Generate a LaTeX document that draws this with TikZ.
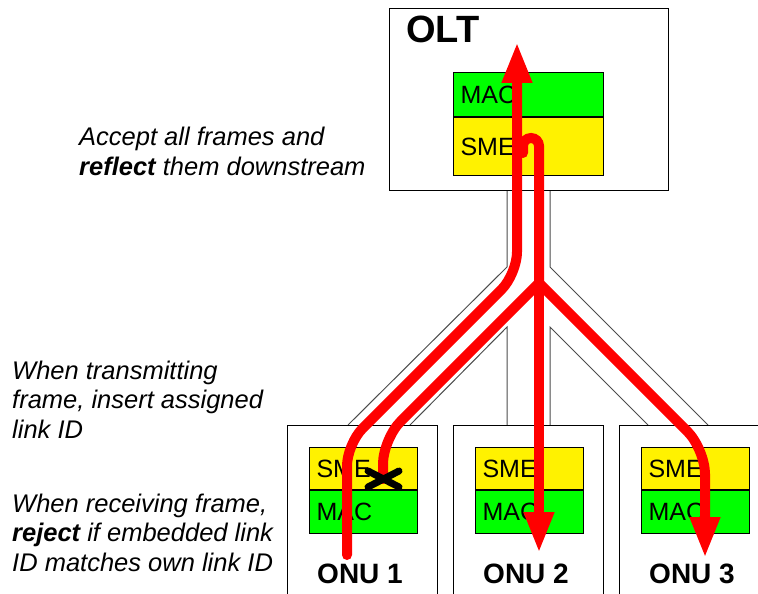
\documentclass[tikz,border=0pt]{standalone}
\usepackage{fontspec}
\setmainfont{Liberation Sans}
\usetikzlibrary{arrows.meta}

\begin{document}
\begin{tikzpicture}[x=1pt,y=-1pt,
        boxsty/.style={rectangle,draw,line width=1pt,inner sep=0pt},
        laysty/.style={rectangle,draw,line width=1pt,anchor=north west,
            inner xsep=7pt,inner ysep=0pt,align=left,
            font=\fontsize{25}{30}\selectfont},
        smesty/.style={laysty,fill=yellow},
        macsty/.style={laysty,fill=green},
        fibsty/.style={draw=black!70,line width=1pt},
        flowsty/.style={red,line width=10pt,line cap=round},
        tipsty/.style={-{Triangle[length=41pt,width=28pt]}},
        rejsty/.style={black,line width=7pt,line cap=round},
        lblsty/.style={font=\fontsize{28}{32}\selectfont\bfseries},
        notesty/.style={anchor=base west,align=left,inner sep=0pt,
            font=\fontsize{25.5}{29.5}\selectfont\itshape},
    ]
    \useasboundingbox (0,0) rectangle (758,594);
    \clip (0,0) rectangle (758,594);
    % fibre tree
    \draw[fibsty] (507,190) -- (507,267) -- (348,425);
    \draw[fibsty] (550,190) -- (550,267) -- (708,425);
    \draw[fibsty] (410,425) -- (507,327) -- (507,425);
    \draw[fibsty] (648,425) -- (550,327) -- (550,425);
    % OLT
    \node (olt) at (389,8) [boxsty,anchor=north west,fill=white,
        minimum width=279pt,minimum height=182pt] {};
    \node (oltlbl) at (406,43) [anchor=base west,inner sep=0pt,
        font=\fontsize{38}{40}\selectfont\bfseries] {OLT};
    \node (oltmac) at (453,72) [macsty,text width=136pt,minimum height=44pt] {MAC};
    \node (oltsme) at (oltmac.south west) [smesty,text width=136pt,minimum height=58pt] {SME};
    % ONUs
    \foreach \i/\x in {1/287,2/453,3/619}{
        \draw[line width=1pt] (\x,594) |- (\x+150,425) -- (\x+150,594);
        \node (sme\i) at (\x+22,447) [smesty,text width=94pt,minimum height=42pt] {SME};
        \node (mac\i) at (sme\i.south west) [macsty,text width=94pt,minimum height=43pt] {MAC};
        \node (onu\i) at (\x+73,583) [anchor=base,inner sep=0pt,lblsty] {ONU \i};
    }
    % frame paths
    \coordinate (tx1) at (347,555);
    \coordinate (oltin) at (517,42);
    \coordinate (hook) at (523,153);
    \coordinate (split) at (539,283);
    \coordinate (rej) at (383,479);
    \coordinate (rx2) at (539,553);
    \coordinate (rx3) at (705,558);
    \draw[flowsty,tipsty,rounded corners=22pt] (tx1) -- (347,444) -- (517,274) -- (oltin);
    \draw[flowsty,rounded corners=8pt] (hook) -- (523,138) -- (539,138) -- (split);
    \draw[flowsty,rounded corners=25pt] (split) -- (383,439) -- (rej);
    \draw[flowsty,tipsty] (split) -- (rx2);
    \draw[flowsty,tipsty,rounded corners=25pt] (split) -- (705,449) -- (rx3);
    \draw[rejsty] (rej) +(-15,-8) -- +(16,8) (rej) +(-15,8) -- +(16,-8);
    % notes (anchored on last line)
    \node (olttxt) at (79,175) [notesty]
        {Accept all frames and\\\textbf{reflect} them downstream};
    \node (txtxt) at (12,438) [notesty]
        {When transmitting\\frame, insert assigned\\link ID};
    \node (rxtxt) at (12,571) [notesty]
        {When receiving frame,\\\textbf{reject} if embedded link\\ID matches own link ID};
\end{tikzpicture}
\end{document}
